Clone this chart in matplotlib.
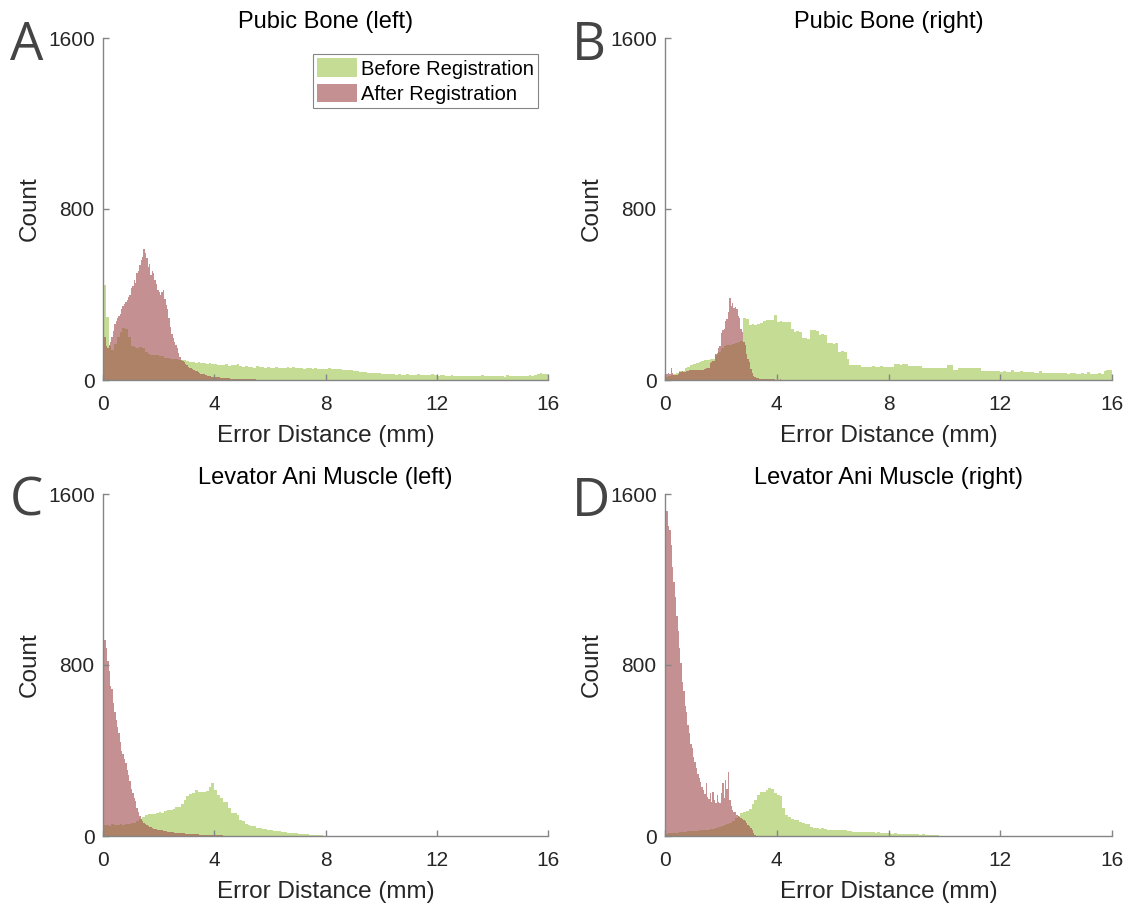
import numpy as np
import matplotlib
matplotlib.use("Agg")
import matplotlib.pyplot as plt
from matplotlib.patches import Patch

plt.rcParams['font.family'] = ['Liberation Sans', 'DejaVu Sans']

# histogram bin widths (mm)
green_bin = 0.1
red_bin = 0.05

# ---- A: Pubic Bone (left) ----
a_before = [444, 295, 160, 140, 170, 200, 225, 243, 240, 200,
            160, 155, 150, 155, 150, 130, 120, 118, 117, 115,
            113, 110, 105, 103, 100, 98, 96, 95, 94, 92,
            88, 85, 82, 80, 83, 78, 80, 76, 79, 75,
            74, 72, 70, 68, 75, 66, 70, 68, 76, 67,
            62, 65, 60, 63, 58, 64, 60, 62, 58, 60,
            58, 55, 60, 57, 55, 58, 60, 56, 62, 58,
            55, 57, 52, 56, 54, 50, 55, 51, 53, 50,
            52, 54, 53, 51, 50, 52, 49, 48, 46, 45,
            42, 40, 38, 37, 36, 35, 34, 33, 35, 31,
            30, 28, 27, 29, 26, 25, 28, 24, 25, 27,
            24, 25, 23, 28, 24, 22, 23, 25, 29, 22,
            21, 22, 24, 20, 21, 23, 20, 19, 21, 20,
            20, 19, 21, 18, 20, 19, 22, 18, 17, 19,
            18, 20, 17, 19, 16, 22, 18, 17, 19, 18,
            19, 20, 18, 22, 21, 24, 30, 32, 30, 28]
a_after = [220, 200, 160, 150, 165, 180, 200, 230, 260, 275,
           290, 300, 310, 330, 345, 355, 365, 375, 390, 400,
           430, 440, 470, 455, 500, 510, 540, 560, 575, 613,
           595, 570, 530, 545, 490, 510, 500, 470, 450, 420,
           410, 400, 410, 420, 380, 350, 330, 290, 250, 215,
           195, 180, 165, 150, 125, 108, 95, 88, 82, 75,
           68, 62, 58, 54, 50, 47, 44, 40, 37, 34,
           30, 28, 26, 24, 22, 20, 19, 18, 16, 15,
           14, 13, 12, 12, 11, 10, 10, 9, 9, 8,
           8, 7, 7, 7, 6, 6, 6, 5, 5, 5,
           5, 4, 4, 4, 4, 3, 3, 3, 3, 3,
           2, 2, 2, 2, 2, 2, 1, 1, 1, 1]

# ---- B: Pubic Bone (right) ----
b_before = [15, 18, 22, 30, 35, 40, 42, 55, 62, 70,
            75, 80, 85, 90, 92, 94, 96, 100, 115, 133,
            150, 160, 164, 165, 168, 175, 180, 182, 290, 285,
            257, 260, 258, 262, 265, 275, 280, 281, 283, 304,
            273, 275, 270, 272, 273, 240, 226, 228, 225, 195,
            195, 193, 234, 234, 230, 211, 213, 210, 172, 175,
            170, 172, 133, 135, 130, 100, 70, 70, 68, 70,
            62, 63, 60, 62, 64, 62, 61, 65, 62, 62,
            62, 63, 73, 73, 72, 74, 73, 65, 65, 66,
            65, 64, 58, 57, 56, 57, 58, 56, 57, 56,
            57, 70, 70, 47, 47, 57, 58, 57, 56, 57,
            57, 56, 57, 42, 42, 43, 41, 42, 42, 43,
            39, 40, 38, 39, 45, 39, 38, 40, 39, 38,
            39, 36, 34, 35, 40, 34, 33, 34, 35, 34,
            34, 33, 32, 31, 30, 32, 31, 30, 30, 31,
            30, 38, 30, 29, 30, 31, 30, 42, 47, 45]
b_after = [31, 30, 32, 28, 55, 35, 23, 22, 25, 30,
           39, 38, 40, 37, 39, 41, 40, 45, 47, 46,
           48, 47, 46, 49, 47, 48, 46, 47, 50, 55,
           54, 56, 80, 86, 90, 88, 120, 125, 150, 160,
           220, 234, 240, 275, 285, 320, 384, 345, 360, 335,
           341, 330, 300, 290, 240, 225, 180, 165, 120, 100,
           85, 50, 35, 20, 14, 10, 8, 6, 5, 5,
           4, 6, 4, 3, 5, 4, 3, 4, 3, 2,
           3, 2, 3, 2, 2, 1, 2, 1, 2, 1,
           1, 1, 1, 0, 1]

# ---- C: Levator Ani Muscle (left) ----
c_before = [50, 52, 48, 55, 50, 53, 56, 52, 55, 58,
            60, 62, 68, 80, 90, 100, 103, 102, 105, 108,
            110, 108, 118, 122, 120, 125, 135, 138, 150, 168,
            185, 195, 200, 215, 205, 208, 204, 210, 230, 246,
            215, 190, 176, 160, 158, 130, 108, 106, 100, 75,
            72, 55, 51, 48, 45, 38, 36, 35, 33, 30,
            26, 25, 24, 22, 18, 17, 16, 15, 14, 12,
            11, 10, 9, 8, 7, 6, 5, 4, 3, 2,
            2, 1, 1]
c_after = [930, 915, 880, 820, 770, 700, 690, 620, 580, 545,
           510, 480, 440, 400, 385, 360, 340, 310, 285, 255,
           220, 200, 178, 165, 130, 110, 95, 80, 72, 63,
           56, 50, 45, 42, 40, 37, 35, 33, 31, 30,
           29, 28, 27, 25, 24, 22, 21, 20, 19, 18,
           17, 16, 16, 15, 14, 13, 13, 12, 12, 11,
           11, 10, 10, 9, 9, 9, 8, 8, 8, 7,
           7, 7, 6, 6, 6, 5, 5, 5, 5, 4,
           4, 4, 3, 3, 3, 3, 2, 2, 2, 1]

# ---- D: Levator Ani Muscle (right) ----
d_before = [10, 12, 14, 15, 16, 18, 18, 20, 22, 22,
            24, 25, 26, 28, 28, 30, 32, 34, 38, 42,
            45, 50, 56, 62, 70, 82, 95, 106, 110, 118,
            125, 150, 170, 190, 207, 205, 215, 223, 220, 200,
            192, 185, 129, 100, 90, 78, 75, 73, 65, 60,
            58, 57, 42, 38, 36, 35, 36, 34, 30, 28,
            29, 27, 28, 26, 27, 25, 22, 20, 21, 19,
            20, 18, 19, 17, 18, 16, 17, 15, 13, 12,
            12, 11, 12, 10, 11, 10, 9, 10, 9, 8,
            8, 7, 8, 6, 6, 5, 4, 3, 2, 1]
d_after = [1556, 1520, 1450, 1430, 1360, 1260, 1190, 1120, 1030, 960,
           880, 810, 720, 680, 610, 580, 520, 480, 430, 410,
           370, 345, 320, 290, 270, 254, 230, 215, 195, 246,
           184, 175, 200, 160, 207, 170, 155, 190, 160, 153,
           200, 246, 180, 262, 220, 301, 168, 140, 122, 114,
           110, 100, 95, 90, 85, 80, 75, 68, 60, 52,
           45, 38, 28, 15, 5]

titles = ['Pubic Bone (left)', 'Pubic Bone (right)',
          'Levator Ani Muscle (left)', 'Levator Ani Muscle (right)']
letters = ['A', 'B', 'C', 'D']
before_list = [a_before, b_before, c_before, d_before]
after_list = [a_after, b_after, c_after, d_after]

green = '#9ec64d'
red = '#9e4649'
alpha = 0.6
axis_gray = '#858585'
text_col = '#262626'

W, H = 1142, 907
fig = plt.figure(figsize=(W / 100, H / 100), dpi=100)

# axes boxes in pixels: left, top, right, bottom
boxes = [(103, 38, 548, 380), (665, 38, 1112, 380),
         (103, 494, 548, 836), (665, 494, 1112, 836)]
letter_pos = [(10, 60), (572, 60), (10, 516), (572, 516)]

for i in range(4):
    l, t, r, b = boxes[i]
    ax = fig.add_axes([l / W, 1 - b / H, (r - l) / W, (b - t) / H])

    before = np.array(before_list[i])
    after = np.array(after_list[i])
    edges_b = green_bin * np.arange(len(before) + 1)
    edges_a = red_bin * np.arange(len(after) + 1)
    ax.stairs(before, edges_b, fill=True, facecolor=green, edgecolor='none',
              alpha=alpha, linewidth=0)
    ax.stairs(after, edges_a, fill=True, facecolor=red, edgecolor='none',
              alpha=alpha, linewidth=0)

    ax.set_xlim(0, 16)
    ax.set_ylim(0, 1600)
    ax.set_xticks([0, 4, 8, 12, 16])
    ax.set_yticks([0, 800, 1600])
    ax.spines['top'].set_visible(False)
    ax.spines['right'].set_visible(False)
    for s in ['left', 'bottom']:
        ax.spines[s].set_color(axis_gray)
        ax.spines[s].set_linewidth(1.0)
    ax.tick_params(direction='in', length=4, width=1, color=axis_gray,
                   labelsize=15, labelcolor=text_col)
    ax.tick_params(axis='x', pad=11)
    ax.tick_params(axis='y', pad=6)
    ax.set_xlabel('Error Distance (mm)', fontsize=17.5, color=text_col, labelpad=8)
    ax.set_ylabel('Count', fontsize=17.5, color=text_col, labelpad=5)
    ax.set_title(titles[i], fontsize=17, color='black', pad=7)

    if i == 0:
        handles = [Patch(facecolor=green, alpha=alpha, edgecolor='none'),
                   Patch(facecolor=red, alpha=alpha, edgecolor='none')]
        leg = ax.legend(handles, ['Before Registration', 'After Registration'],
                        loc='upper right', bbox_to_anchor=(0.978, 0.952),
                        borderaxespad=0, fontsize=14.5, fancybox=False,
                        handlelength=2.0, handleheight=1.05, handletextpad=0.2,
                        labelspacing=0.25, borderpad=0.2, framealpha=1)
        leg.get_frame().set_edgecolor(axis_gray)
        leg.get_frame().set_linewidth(0.8)

    # panel letters
    lx, ly = letter_pos[i]
    fig.text(lx / W, 1 - ly / H, letters[i], fontsize=38, color='#444444',
             family=['Open Sans', 'DejaVu Sans'],
             ha='left', va='baseline')

fig.savefig('out.png', dpi=100)
